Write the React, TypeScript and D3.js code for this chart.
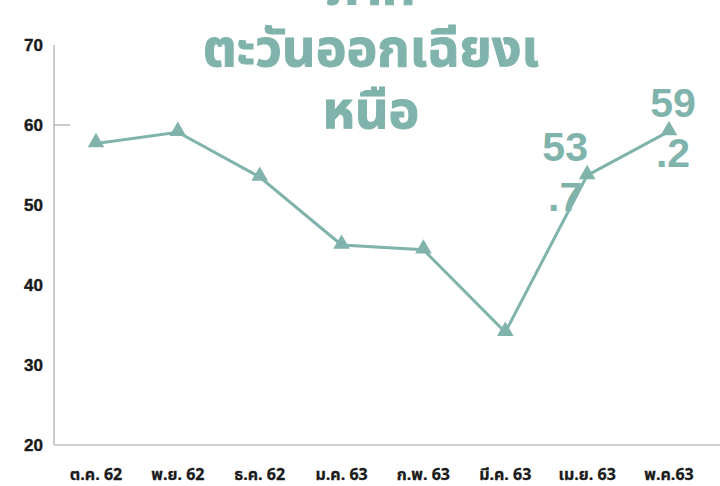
import React from "react";
import * as d3 from "d3";

const months = ["ต.ค. 62", "พ.ย. 62", "ธ.ค. 62", "ม.ค. 63", "ก.พ. 63", "มี.ค. 63", "เม.ย. 63", "พ.ค.63"];
const values = [57.7, 59.1, 53.5, 45.0, 44.4, 34.1, 53.7, 59.2];
const yTicks = [20, 30, 40, 50, 60, 70];
const titleLines = ["ภาค", "ตะวันออกเฉียงเ", "หนือ"];
const labeled = [6, 7];

const W = 720;
const H = 486;
const TEAL = "#7fb3ab";

export default function App() {
  const x = d3.scalePoint<string>().domain(months).range([96, 669]);
  const y = d3.scaleLinear().domain([20, 70]).range([445, 45]);
  const line = d3
    .line<number>()
    .x((_, i) => x(months[i]) as number)
    .y((d) => y(d));
  const tri = d3.symbol().type(d3.symbolTriangle).size(120)();
  const fontNum = "'Liberation Sans', Arial, Helvetica, sans-serif";
  const fontThai = "'Noto Sans Thai', 'Noto Sans', sans-serif";
  const labelDx: Record<number, number> = { 6: -22, 7: 4 };

  return (
    <svg width={W} height={H} style={{ position: "absolute", left: 0, top: 0 }}>
      <rect width={W} height={H} fill="#fff" />
      {/* axes */}
      <line x1={54} x2={54} y1={y(70)} y2={y(20)} stroke="#a8a8a8" strokeWidth={1.2} />
      <line x1={54} x2={W} y1={y(20)} y2={y(20)} stroke="#a8a8a8" strokeWidth={1.2} />
      <line x1={54} x2={70} y1={y(60)} y2={y(60)} stroke="#a8a8a8" strokeWidth={1.2} />
      {yTicks.map((t) => (
        <text key={t} x={43} y={y(t) + 6} textAnchor="end" fontFamily={fontNum} fontWeight="900" fontSize={17} fill="#1a1a1a" stroke="#1a1a1a" strokeWidth={0.4}>
          {t}
        </text>
      ))}
      {months.map((m) => (
        <text key={m} x={x(m)} y={480} textAnchor="middle" fontFamily={fontThai} fontWeight="bold" fontSize={16} fill="#1a1a1a" stroke="#1a1a1a" strokeWidth={0.3}>
          {m}
        </text>
      ))}
      {/* line */}
      <path d={line(values) || ""} fill="none" stroke={TEAL} strokeWidth={3} />
      {values.map((v, i) => (
        <path key={i} d={tri || ""} transform={`translate(${x(months[i])},${y(v) - 1})`} fill={TEAL} />
      ))}
      {/* value labels */}
      {labeled.map((i) => {
        const s = values[i].toFixed(1);
        const [a, b] = s.split(".");
        const cx = (x(months[i]) as number) + labelDx[i];
        const cy = y(values[i]);
        return (
          <g key={i} fontFamily={fontNum} fontWeight="bold" fontSize={41} fill={TEAL} textAnchor="middle">
            <text x={cx} y={cy - 14}>{a}</text>
            <text x={cx} y={cy + 36}>.{b}</text>
          </g>
        );
      })}
      {/* title */}
      {titleLines.map((t, i) => (
        <text key={i} x={371} y={4 + i * 62} textAnchor="middle" fontFamily={fontThai} fontWeight="bold" fontSize={52} fill={TEAL} stroke={TEAL} strokeWidth={1}>
          {t}
        </text>
      ))}
    </svg>
  );
}
